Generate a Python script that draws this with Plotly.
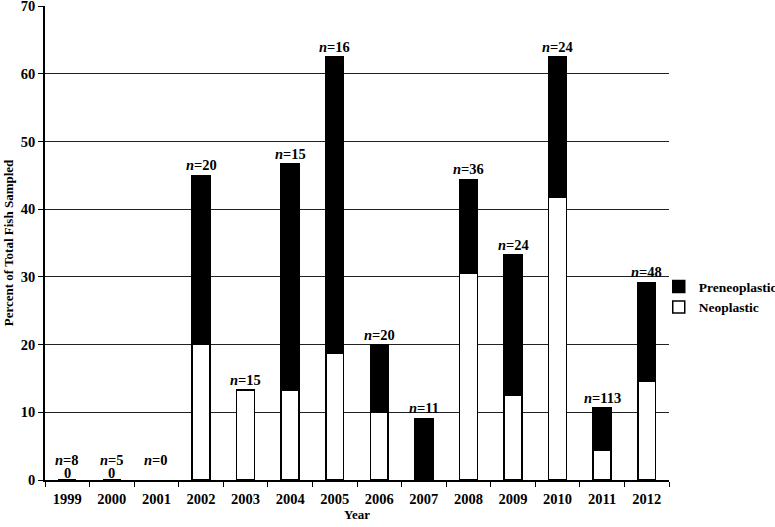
import plotly.graph_objects as go

years = ["1999", "2000", "2001", "2002", "2003", "2004", "2005",
         "2006", "2007", "2008", "2009", "2010", "2011", "2012"]
n_fish = [8, 5, 0, 20, 15, 15, 16, 20, 11, 36, 24, 24, 113, 48]
neoplastic = [0, 0, None, 20.0, 13.3, 13.3, 18.75, 10.0, 0, 30.6, 12.5, 41.7, 4.4, 14.6]
preneoplastic = [0, 0, None, 25.0, 0, 33.4, 43.75, 10.0, 9.1, 13.8, 20.8, 20.8, 6.2, 14.6]
zero_years = ["1999", "2000"]

FONT = "Liberation Serif"
pos = list(range(len(years)))

fig = go.Figure()
fig.add_trace(go.Bar(
    x=pos, y=neoplastic, name="<b>Neoplastic</b>",
    marker=dict(color="white", line=dict(color="black", width=1.5)),
    width=0.4,
))
fig.add_trace(go.Bar(
    x=pos, y=preneoplastic, name="<b>Preneoplastic</b>",
    marker=dict(color="black", line=dict(color="black", width=1.5)),
    width=0.4,
))

# n= labels above each stack
for i, (n, a, b) in enumerate(zip(n_fish, neoplastic, preneoplastic)):
    total = (a or 0) + (b or 0)
    fig.add_annotation(
        x=i, y=total, text=f"<b><i>n</i>={n}</b>", showarrow=False,
        yanchor="bottom", yshift=10 if total == 0 else 0,
        font=dict(family=FONT, size=14.5, color="black"),
    )
for yr in zero_years:
    fig.add_annotation(
        x=years.index(yr), y=0, text="<b>0</b>", showarrow=False,
        yanchor="bottom", yshift=-3,
        font=dict(family=FONT, size=14.5, color="black"),
    )

fig.update_layout(
    barmode="stack",
    width=775, height=527,
    margin=dict(l=45, r=106, t=6, b=47, autoexpand=False),
    plot_bgcolor="white", paper_bgcolor="white",
    font=dict(family=FONT, size=14, color="black"),
    showlegend=True,
    legend=dict(xref="container", yref="container",
                x=0.85, xanchor="left", y=0.436, yanchor="middle",
                font=dict(family=FONT, size=13.5, color="black"),
                bgcolor="rgba(0,0,0,0)", itemwidth=30, tracegroupgap=0),
)
fig.update_xaxes(
    range=[-0.5, len(years) - 0.5], showline=True, linecolor="black", linewidth=1.5,
    tickmode="array", tickvals=pos, ticktext=[f"<b>{y}</b>" for y in years],
    ticks="", ticklabelstandoff=5,
    tickfont=dict(family=FONT, size=14.5, color="black"),
    minor=dict(ticks="outside", tick0=-0.5, dtick=1, ticklen=5, tickcolor="black",
               showgrid=False),
    title=dict(text="<b>Year</b>", font=dict(family=FONT, size=13), standoff=2),
    showgrid=False, zeroline=False, automargin=False,
)
fig.update_yaxes(
    range=[0, 70.02], tick0=0, dtick=10, showline=True, linecolor="black", linewidth=1.5,
    ticks="outside", ticklen=5, tickcolor="black", ticklabeloverflow="allow",
    tickfont=dict(family=FONT, size=14.5, color="black"),
    tickprefix="<b>", ticksuffix="</b>",
    showgrid=True, gridcolor="#222222", gridwidth=1, zeroline=False,
    title=dict(text="<b>Percent of Total Fish Sampled</b>",
               font=dict(family=FONT, size=13), standoff=4),
    automargin=False,
)

fig.write_html("out.html", config={"displayModeBar": False},
               post_script="document.body.style.margin='0';")
